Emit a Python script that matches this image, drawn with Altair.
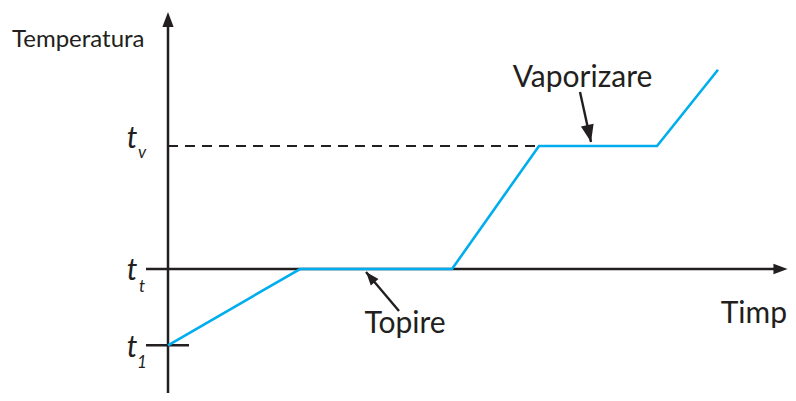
import math
import altair as alt
import pandas as pd

# ---- data (abstract units: time in minutes, temperature in degrees) ----
curve_time = [0, 6.6, 14.2, 18.55, 24.45, 27.5]
curve_temp = [-62, 0, 0, 100, 100, 162]

T1, TT, TV = -62, 0, 100          # t1, t_t (melting), t_v (vaporisation)
TV_END_TIME = 18.55               # where the dashed guide meets the curve

level_temps_main = [98.4, -8.9, -71.5]
level_temps_sub = [90.2, -18.7, -80.5]
level_subs = ["v", "t", "1"]

axis_time_left, axis_time_right, axis_time_tip = -1.1, 30.4, 30.98
axis_temp_bottom, axis_temp_top, axis_temp_tip = -101, 200, 209
tick_time_right = 1.05

labels_text = ["Topire", "Vaporizare", "Timp"]
labels_time = [11.85, 20.725, 30.95]
labels_temp = [-52, 148.2, -43.9]
labels_align = ["center", "center", "right"]

# arrows: (tail_time, tail_temp, tip_time, tip_temp)
arrow_topire = (11.55, -34.1, 9.9, -2.4)
arrow_vapor = (20.6, 143.9, 21.15, 103.3)

# ---- scales ----
W, H = 780, 385
XDOM = [-8, 31.0]
YDOM = [-100.8, 212.2]
px_x = W / (XDOM[1] - XDOM[0])
px_y = H / (YDOM[1] - YDOM[0])

INK = "#231f20"
BLUE = "#00aeef"
FONT = "Lato"
HEAD = "M0,0L-0.75,2L0.75,2Z"

xs = alt.Scale(domain=XDOM, nice=False, zero=False)
ys = alt.Scale(domain=YDOM, nice=False, zero=False)


def X(f):
    return alt.X(f, type="quantitative", scale=xs, axis=None)


def Y(f):
    return alt.Y(f, type="quantitative", scale=ys, axis=None)


def angle_of(tail_t, tail_T, tip_t, tip_T):
    dx = (tip_t - tail_t) * px_x
    dy = -(tip_T - tail_T) * px_y
    return math.degrees(math.atan2(dx, -dy)) % 360


def seg_df(x1, y1, x2, y2):
    return pd.DataFrame({"a": [x1], "b": [y1], "a2": [x2], "b2": [y2]})


def rule(df, **kw):
    return alt.Chart(df).mark_rule(**kw).encode(
        x=X("a"), y=Y("b"), x2="a2", y2="b2"
    )


def head(t, T, angle, size):
    df = pd.DataFrame({"a": [t], "b": [T]})
    return alt.Chart(df).mark_point(
        shape=HEAD, filled=True, opacity=1, color=INK, size=size, angle=angle
    ).encode(x=X("a"), y=Y("b"))


layers = []
# axes
layers.append(rule(seg_df(0, axis_temp_bottom, 0, axis_temp_top), color=INK, strokeWidth=2.5))
layers.append(head(0, axis_temp_tip, 0, 225))
layers.append(rule(seg_df(axis_time_left, TT, axis_time_right, TT), color=INK, strokeWidth=2.5))
layers.append(head(axis_time_tip, TT, 90, 200))
layers.append(rule(seg_df(axis_time_left, T1, tick_time_right, T1), color=INK, strokeWidth=2.5))
# dashed guide at t_v
layers.append(rule(seg_df(0, TV, TV_END_TIME, TV), color=INK, strokeWidth=2, strokeDash=[10, 7]))

# heating curve
curve = pd.DataFrame({"time": curve_time, "temp": curve_temp, "o": list(range(len(curve_time)))})
layers.append(
    alt.Chart(curve).mark_line(color=BLUE, strokeWidth=2.6).encode(
        x=X("time"), y=Y("temp"), order="o:Q"
    )
)

# annotation arrows
for (a, b, c, d), size in [(arrow_topire, 180), (arrow_vapor, 300)]:
    layers.append(rule(seg_df(a, b, c, d), color=INK, strokeWidth=2.4))
    layers.append(head(c, d, angle_of(a, b, c, d), size))

# labels
lab = pd.DataFrame({"txt": labels_text, "a": labels_time, "b": labels_temp, "al": labels_align})
for al in ["center", "right"]:
    layers.append(
        alt.Chart(lab[lab.al == al]).mark_text(
            font=FONT, fontSize=30, color=INK, align=al, baseline="alphabetic"
        ).encode(x=X("a"), y=Y("b"), text="txt:N")
    )

layers.append(
    alt.Chart(pd.DataFrame({"txt": ["Temperatura"], "a": [-7.8], "b": [180.7]})).mark_text(
        font=FONT, fontSize=24, color=INK, align="left", baseline="alphabetic"
    ).encode(x=X("a"), y=Y("b"), text="txt:N")
)

mains = pd.DataFrame({"txt": ["t", "t", "t"], "a": [-1.8] * 3, "b": level_temps_main})
layers.append(
    alt.Chart(mains).mark_text(
        font=FONT, fontSize=30, fontStyle="italic", color=INK, align="center", baseline="alphabetic"
    ).encode(x=X("a"), y=Y("b"), text="txt:N")
)
subs = pd.DataFrame({"txt": level_subs, "a": [-1.3] * 3, "b": level_temps_sub})
layers.append(
    alt.Chart(subs).mark_text(
        font=FONT, fontSize=17, fontStyle="italic", color=INK, align="center", baseline="alphabetic"
    ).encode(x=X("a"), y=Y("b"), text="txt:N")
)

chart = alt.layer(*layers).properties(
    width=W, height=H, padding=0, autosize=alt.AutoSizeParams(type="none")
).configure_view(stroke=None)

chart.save("out.html", embed_options={"renderer": "svg", "actions": False})
